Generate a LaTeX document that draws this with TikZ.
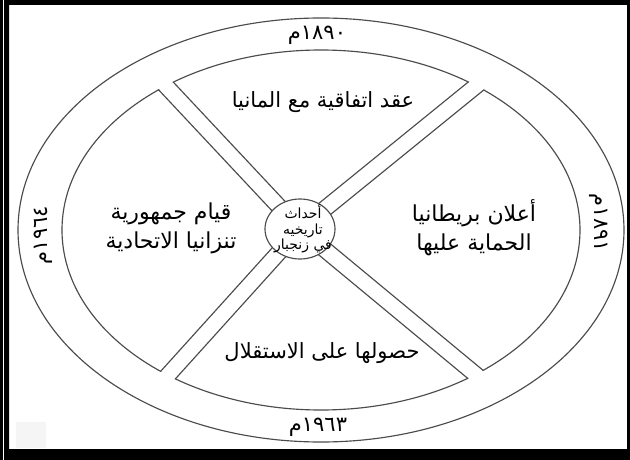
\documentclass[tikz,border=0pt]{standalone}
\usepackage{fontspec}
\TeXXeTstate=1
\newfontfamily\arabicfont[Script=Arabic]{DejaVu Sans}
\newfontfamily\digitfont{DejaVu Sans}
\usetikzlibrary{calc,shapes.geometric}
\tikzset{
  ln/.style={draw=black!70, line width=1.15pt},
  ar/.style={font=\arabicfont\fontsize{21}{29}\selectfont, align=center, inner sep=0pt, text=black},
  arw/.style={font=\arabicfont\fontsize{22}{29}\selectfont, align=center, inner sep=0pt, text=black},
  hubtxt/.style={font=\arabicfont\fontsize{14}{15.5}\selectfont, align=center, inner sep=0pt, text=black},
  yr/.style={font=\fontsize{21}{24}\selectfont, inner sep=0pt, text=black},
}
\begin{document}
\begin{tikzpicture}[x=1pt,y=-1pt]
\useasboundingbox (0,0) rectangle (630,460);
\fill[white] (0,0) rectangle (630,460);
% frame
\fill[black,even odd rule] (0,0) rectangle (630,460) (9,5) rectangle (627,449);
\draw[white,line width=1.3pt] (3.4,0) -- (3.4,460);
% faint square
\fill[gray!8] (16,422) rectangle (46,448);
% key points
\coordinate (C) at (321,230);
\coordinate (H) at (300,229);
\coordinate (ul) at (166,86);
\coordinate (ur) at (476,86);
\coordinate (ll) at (169,374);
\coordinate (lr) at (475,374);
% outer and inner ellipses
\path[ln] (C) ellipse [x radius=303, y radius=212];
\path[ln] (C) ellipse [x radius=259, y radius=180];
% white gaps of the bands
\foreach \p in {ul,ur,ll,lr}{
  \draw[white,line width=14.6pt] ($(\p)!-12pt!(H)$) -- ($(\p)!22pt!(H)$);
}
% band edges
\begin{scope}
\clip (C) ellipse [x radius=259, y radius=180];
\foreach \p in {ul,ur,ll,lr}{
  \coordinate (e) at ($(\p)!-14pt!(H)$);
  \path[ln] ($(e)!8pt!90:(H)$) -- ($(H)!8pt!-90:(e)$);
  \path[ln] ($(e)!8pt!-90:(H)$) -- ($(H)!8pt!90:(e)$);
}
\end{scope}
% hub
\node[ln, fill=white, ellipse, minimum width=70pt, minimum height=60pt, inner sep=0pt] (hubshape) at (H) {};
\node[hubtxt] (hub) at (303,229) {\beginR أحداث\endR\\\beginR تاريخيه\endR\\\beginR في زنجبار\endR};
% sector texts
\node[ar] (top) at (323,102) {\beginR عقد اتفاقية مع المانيا\endR};
\node[ar] (bot) at (322,353) {\beginR حصولها على الاستقلال\endR};
\node[arw] (left) at (171,228) {\beginR قيام جمهورية\endR\\\beginR تنزانيا الاتحادية\endR};
\node[arw] (right) at (474,228) {\beginR أعلان بريطانيا\endR\\\beginR الحماية عليها\endR};
% ring years
\node[yr] (y1) at (317,35) {{\arabicfont م}{\digitfont ١٨٩٠}};
\node[yr] (y2) at (318,427) {{\arabicfont م}{\digitfont ١٩٦٣}};
\node[yr, rotate=90] (y3) at (43,235) {{\arabicfont م}{\digitfont ١٩٦٤}};
\node[yr, rotate=-90] (y4) at (599,223) {{\arabicfont م}{\digitfont ١٨٩١}};
\end{tikzpicture}
\end{document}
